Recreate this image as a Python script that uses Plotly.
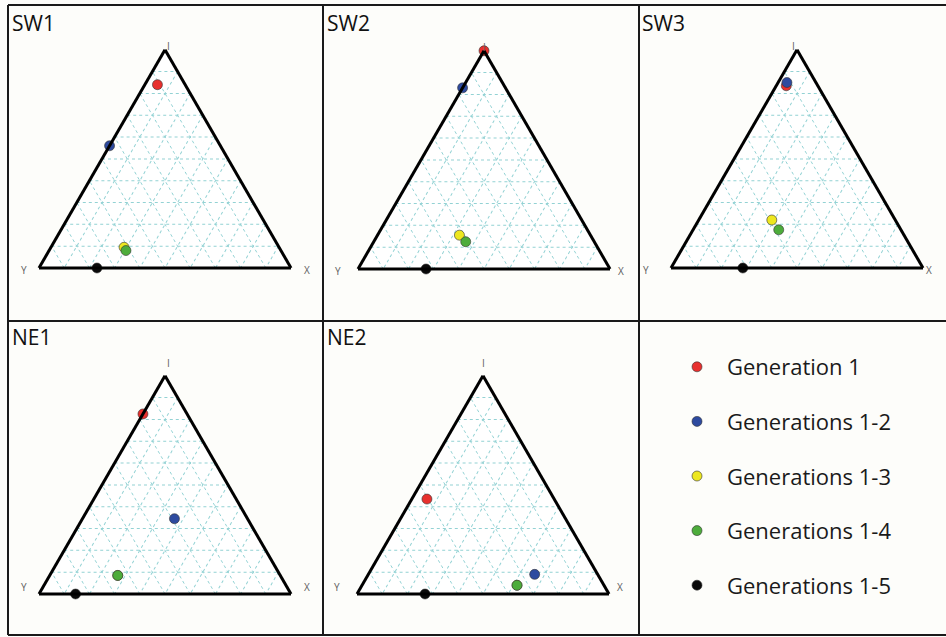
import math
import plotly.graph_objects as go

# ---- data (fractions of I, Y, X) ----
generations = ["Generation 1", "Generations 1-2", "Generations 1-3",
               "Generations 1-4", "Generations 1-5"]
colors = ["#e8302e", "#2d4a9f", "#ede71f", "#4dac3b", "#0a0a0a"]
panel_names = ["SW1", "SW2", "SW3", "NE1", "NE2"]
axis_labels = ["I", "Y", "X"]

sw1_I = [0.84, 0.56, 0.095, 0.08, 0.0]
sw1_Y = [0.11, 0.44, 0.615, 0.615, 0.77]
sw1_X = [0.05, 0.0, 0.29, 0.305, 0.23]

sw2_I = [1.0, 0.83, 0.155, 0.125, 0.0]
sw2_Y = [0.0, 0.17, 0.52, 0.51, 0.73]
sw2_X = [0.0, 0.0, 0.325, 0.365, 0.27]

sw3_I = [0.835, 0.85, 0.22, 0.175, 0.0]
sw3_Y = [0.125, 0.115, 0.49, 0.485, 0.715]
sw3_X = [0.04, 0.035, 0.29, 0.34, 0.285]

ne1_I = [0.825, 0.345, 0.085, 0.085, 0.0]
ne1_Y = [0.175, 0.29, 0.645, 0.645, 0.855]
ne1_X = [0.0, 0.365, 0.27, 0.27, 0.145]

ne2_I = [0.435, 0.09, 0.04, 0.04, 0.0]
ne2_Y = [0.505, 0.25, 0.345, 0.345, 0.73]
ne2_X = [0.06, 0.66, 0.615, 0.615, 0.27]

panel_data = [(sw1_I, sw1_Y, sw1_X), (sw2_I, sw2_Y, sw2_X), (sw3_I, sw3_Y, sw3_X),
              (ne1_I, ne1_Y, ne1_X), (ne2_I, ne2_Y, ne2_X)]

# ---- layout geometry (pixels) ----
FW, FH = 946, 637
tri_w = 252
tri_pos = [(39, 268), (358, 269), (671, 268), (39, 594), (357, 594)]
title_pos = [(10, 7), (325, 7), (640, 7), (10, 321), (325, 321)]


def px(x):
    return x / FW


def py(y):
    return 1 - y / FH


fig = go.Figure()
layout_upd = {}
lab_font = dict(size=10, color="#606060", family="Open Sans")
for p, (name, (I, Y, X)) in enumerate(zip(panel_names, panel_data)):
    tid = "ternary" if p == 0 else f"ternary{p+1}"
    for g in range(len(generations)):
        fig.add_trace(go.Scatterternary(
            a=[I[g]], b=[Y[g]], c=[X[g]],
            mode="markers",
            name=generations[g],
            legendgroup=generations[g],
            showlegend=(p == 0),
            subplot=tid,
            cliponaxis=False,
            marker=dict(size=10, color=colors[g],
                        line=dict(color="#333333", width=0.6)),
        ))
    lx, by = tri_pos[p]
    th = tri_w * math.sqrt(3) / 2
    ax_common = dict(showticklabels=False, ticks="", linecolor="#000000",
                     linewidth=3, showgrid=True, gridcolor="#93d2d4",
                     gridwidth=1, griddash="dot", dtick=0.1, tick0=0,
                     title=dict(text=""))
    layout_upd[tid] = dict(
        sum=1,
        bgcolor="#ffffff",
        domain=dict(x=[px(lx), px(lx + tri_w)],
                    y=[py(by), py(by - th)]),
        aaxis=ax_common, baxis=ax_common, caxis=ax_common,
    )
    # corner labels
    fig.add_annotation(x=px(lx + tri_w / 2), y=py(by - th - 13), text=axis_labels[0],
                       xref="paper", yref="paper", showarrow=False, font=lab_font)
    fig.add_annotation(x=px(lx - 20), y=py(by + 2), text=axis_labels[1],
                       xref="paper", yref="paper", showarrow=False, font=lab_font)
    fig.add_annotation(x=px(lx + tri_w + 11), y=py(by + 2), text=axis_labels[2],
                       xref="paper", yref="paper", showarrow=False, font=lab_font)
    tx, ty = title_pos[p]
    fig.add_annotation(x=px(tx), y=py(ty), xref="paper", yref="paper",
                       xanchor="left", yanchor="top", showarrow=False,
                       text=name, font=dict(size=21, color="#111111",
                                            family="Open Sans"))

fig.update_layout(**layout_upd)

# panel border lines
for vx in [8, 323, 639]:
    fig.add_shape(type="line", xref="paper", yref="paper",
                  x0=px(vx), x1=px(vx), y0=py(5), y1=py(635),
                  line=dict(color="#1a1a1a", width=2))
for hy in [5, 321, 635]:
    fig.add_shape(type="line", xref="paper", yref="paper",
                  x0=px(8), x1=1, y0=py(hy), y1=py(hy),
                  line=dict(color="#1a1a1a", width=2))

fig.update_layout(
    width=FW, height=FH,
    margin=dict(l=0, r=0, t=0, b=0),
    paper_bgcolor="#fdfdfa",
    font=dict(family="Open Sans"),
    showlegend=True,
    legend=dict(x=px(667), y=py(346), xanchor="left", yanchor="top",
                traceorder="grouped", tracegroupgap=23, itemwidth=50,
                bgcolor="rgba(0,0,0,0)",
                font=dict(size=22, color="#1a1a1a", family="Open Sans")),
)

fig.write_html("out.html", config={"displayModeBar": False},
               post_script="document.body.style.margin='0px';")
